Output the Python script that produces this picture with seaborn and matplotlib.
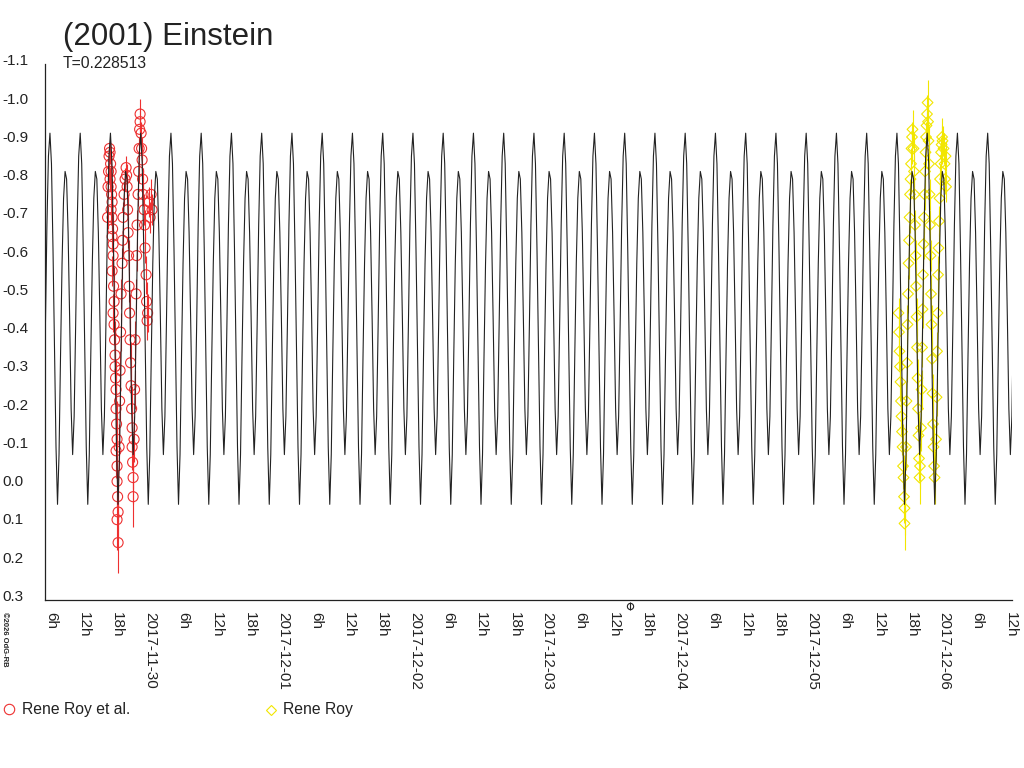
import numpy as np
import pandas as pd
import matplotlib
matplotlib.use("Agg")
import matplotlib.pyplot as plt
import matplotlib.dates as mdates
import matplotlib.transforms as mtrans
from matplotlib.lines import Line2D
import seaborn as sns

# ---- data ----
title = "(2001) Einstein"
period_days = 0.228513
epoch = "2017-11-29 17:29"      # a main maximum of the model curve
day0 = "2017-11-29"             # observation times are hours after this
x_start = "2017-11-29 05:37"
x_end = "2017-12-06 12:53"
mark_time = "2017-12-03 15:45"  # small symbol under the time axis

# one rotation of the model curve (phase from the main maximum)
model_phase = [0.00, 0.05, 0.10, 0.15, 0.20, 0.25, 0.30, 0.35, 0.40, 0.45,
               0.50, 0.55, 0.60, 0.65, 0.70, 0.75, 0.80, 0.85, 0.90, 0.95]
model_mag = [-0.92, -0.84, -0.62, -0.36, -0.10, 0.05, -0.08, -0.34, -0.58, -0.75,
             -0.82, -0.80, -0.66, -0.44, -0.20, -0.08, -0.18, -0.42, -0.68, -0.86]

# Rene Roy et al.
roy_al_hours = [16.96, 17.05, 17.14, 17.23, 17.32, 17.41, 17.51, 17.60, 17.41, 17.60,
                17.69, 17.78, 17.60, 17.78, 17.87, 17.78, 17.96, 17.96, 17.78, 18.05,
                18.14, 17.96, 18.14, 18.23, 18.32, 18.32, 18.41, 18.50, 18.50, 18.59,
                18.68, 18.50, 18.68, 18.68, 18.78, 18.87, 18.68, 18.87, 19.05, 19.14,
                19.23, 19.32, 19.41, 19.59, 19.68, 19.77, 19.95, 20.14, 20.32, 20.41,
                20.50, 20.59, 20.68, 20.77, 20.86, 20.95, 21.04, 21.13, 21.22, 21.32,
                21.41, 21.41, 21.50, 21.59, 21.59, 21.77, 21.86, 21.95, 22.13, 22.22,
                22.31, 22.49, 22.59, 22.68, 22.77, 22.86, 22.86, 23.04, 23.13, 23.22,
                23.31, 23.40, 23.58, 23.67, 23.76, 23.95, 24.04, 24.13, 24.22, 24.49,
                24.67, 24.85, 25.03]
roy_al_mag = [-0.70, -0.78, -0.82, -0.86, -0.88, -0.87, -0.84, -0.82, -0.80, -0.78,
              -0.76, -0.74, -0.72, -0.70, -0.67, -0.65, -0.63, -0.60, -0.56, -0.52,
              -0.48, -0.45, -0.42, -0.38, -0.34, -0.31, -0.28, -0.25, -0.20, -0.16,
              -0.12, -0.09, -0.05, -0.01, 0.03, 0.07, 0.09, 0.15, -0.10, -0.22,
              -0.30, -0.40, -0.50, -0.58, -0.64, -0.70, -0.76, -0.80, -0.83, -0.81,
              -0.78, -0.72, -0.66, -0.60, -0.52, -0.45, -0.38, -0.32, -0.26, -0.20,
              -0.15, -0.10, -0.06, -0.02, 0.03, -0.12, -0.25, -0.38, -0.50, -0.60,
              -0.68, -0.76, -0.82, -0.88, -0.93, -0.97, -0.95, -0.92, -0.88, -0.85,
              -0.80, -0.76, -0.72, -0.68, -0.62, -0.55, -0.48, -0.43, -0.45, -0.74,
              -0.70, -0.76, -0.72]
roy_al_err = [0.03, 0.03, 0.03, 0.02, 0.02, 0.03, 0.03, 0.03, 0.03, 0.03,
              0.04, 0.03, 0.04, 0.03, 0.04, 0.04, 0.04, 0.05, 0.04, 0.05,
              0.05, 0.05, 0.05, 0.05, 0.05, 0.06, 0.05, 0.06, 0.06, 0.06,
              0.06, 0.07, 0.06, 0.07, 0.07, 0.07, 0.08, 0.08, 0.06, 0.05,
              0.05, 0.05, 0.04, 0.04, 0.04, 0.04, 0.03, 0.03, 0.03, 0.03,
              0.03, 0.04, 0.04, 0.04, 0.04, 0.05, 0.05, 0.05, 0.05, 0.06,
              0.06, 0.06, 0.07, 0.07, 0.08, 0.06, 0.05, 0.05, 0.04, 0.04,
              0.04, 0.03, 0.03, 0.03, 0.03, 0.04, 0.03, 0.03, 0.03, 0.03,
              0.03, 0.03, 0.04, 0.04, 0.04, 0.05, 0.05, 0.05, 0.05, 0.04,
              0.04, 0.04, 0.04]

# Rene Roy
roy_hours = [160.36, 160.45, 160.54, 160.63, 160.72, 160.81, 160.90, 161.00, 161.09, 161.18,
             161.27, 161.36, 161.45, 161.45, 161.72, 161.81, 161.90, 161.99, 162.08, 162.18,
             162.27, 162.36, 162.45, 162.54, 162.63, 162.72, 162.81, 162.90, 163.08, 163.17,
             163.26, 163.36, 163.45, 163.54, 163.63, 163.72, 163.81, 163.90, 163.99, 164.08,
             164.17, 164.26, 164.44, 164.54, 164.63, 164.72, 164.81, 164.90, 164.99, 165.08,
             165.17, 165.26, 165.35, 165.44, 165.53, 165.63, 165.72, 165.81, 165.90, 165.99,
             166.08, 166.17, 166.26, 166.35, 166.44, 166.53, 166.62, 166.71, 166.81, 166.90,
             167.17, 167.26, 167.35, 167.44, 167.53, 167.62, 167.71, 167.80, 167.89, 167.99,
             168.08, 168.17, 168.26, 168.35, 168.53, 168.71, 168.80, 168.89, 168.98]
roy_mag = [-0.45, -0.40, -0.35, -0.31, -0.27, -0.22, -0.18, -0.14, -0.10, -0.05,
           -0.02, 0.03, 0.06, 0.10, -0.10, -0.22, -0.32, -0.42, -0.50, -0.58,
           -0.64, -0.70, -0.76, -0.80, -0.84, -0.88, -0.91, -0.93, -0.88, -0.82,
           -0.76, -0.68, -0.60, -0.52, -0.44, -0.36, -0.28, -0.20, -0.13, -0.07,
           -0.02, -0.05, -0.15, -0.25, -0.36, -0.46, -0.55, -0.63, -0.70, -0.76,
           -0.82, -0.87, -0.91, -0.94, -0.97, -1.00, -0.95, -0.90, -0.84, -0.76,
           -0.68, -0.60, -0.50, -0.42, -0.33, -0.24, -0.16, -0.10, -0.05, -0.02,
           -0.12, -0.23, -0.35, -0.45, -0.55, -0.62, -0.69, -0.75, -0.80, -0.84,
           -0.87, -0.89, -0.91, -0.90, -0.88, -0.84, -0.80, -0.86, -0.78]
roy_err = [0.04, 0.04, 0.05, 0.05, 0.05, 0.05, 0.05, 0.06, 0.06, 0.06,
           0.06, 0.07, 0.07, 0.07, 0.06, 0.05, 0.05, 0.05, 0.05, 0.04,
           0.04, 0.04, 0.04, 0.04, 0.04, 0.04, 0.04, 0.05, 0.04, 0.04,
           0.04, 0.04, 0.04, 0.05, 0.05, 0.05, 0.05, 0.06, 0.06, 0.06,
           0.07, 0.06, 0.06, 0.05, 0.05, 0.05, 0.04, 0.04, 0.04, 0.04,
           0.04, 0.04, 0.04, 0.05, 0.05, 0.06, 0.05, 0.04, 0.04, 0.04,
           0.04, 0.04, 0.05, 0.05, 0.05, 0.05, 0.06, 0.06, 0.06, 0.07,
           0.06, 0.05, 0.05, 0.05, 0.05, 0.04, 0.04, 0.04, 0.04, 0.04,
           0.04, 0.05, 0.05, 0.04, 0.04, 0.04, 0.04, 0.04, 0.04]

yticks = [-1.1, -1.0, -0.9, -0.8, -0.7, -0.6, -0.5, -0.4, -0.3, -0.2, -0.1, 0.0, 0.1, 0.2, 0.3]

red = "#ee3030"
yellow = "#f2e600"
ink = "#222222"

# ---- build frames ----
t0 = pd.Timestamp(day0)
df_al = pd.DataFrame({"time": t0 + pd.to_timedelta(roy_al_hours, unit="h"),
                      "mag": roy_al_mag, "err": roy_al_err})
df_roy = pd.DataFrame({"time": t0 + pd.to_timedelta(roy_hours, unit="h"),
                       "mag": roy_mag, "err": roy_err})

# repeat the one-rotation model over the whole time span
cycles = np.arange(-3, 31)
phase_all = (cycles[:, None] + np.array(model_phase)[None, :]).ravel()
model_df = pd.DataFrame({
    "time": pd.Timestamp(epoch) + pd.to_timedelta(phase_all * period_days, unit="D"),
    "mag": np.tile(model_mag, len(cycles)),
})

# ---- plot ----
sns.set_style("white")
plt.rcParams["font.family"] = ["Liberation Sans", "DejaVu Sans"]
plt.rcParams["text.color"] = ink

fig = plt.figure(figsize=(10.24, 7.68), dpi=100)
ax = fig.add_axes([45 / 1024, 168 / 768, (1011.7 - 45) / 1024, (600 - 64.3) / 768])

ax.errorbar(df_al["time"], df_al["mag"], yerr=df_al["err"], fmt="none",
            ecolor=red, elinewidth=0.8, zorder=2)
ax.errorbar(df_roy["time"], df_roy["mag"], yerr=df_roy["err"], fmt="none",
            ecolor=yellow, elinewidth=0.8, zorder=2)
sns.scatterplot(data=df_al, x="time", y="mag", marker="o", s=52, color=red,
                facecolor="none", edgecolor=red, linewidth=0.8, ax=ax, zorder=3)
sns.scatterplot(data=df_roy, x="time", y="mag", marker="D", s=30, color=yellow,
                facecolor="none", edgecolor=yellow, linewidth=0.8, ax=ax, zorder=3)
sns.lineplot(data=model_df, x="time", y="mag", estimator=None, sort=False,
             color=ink, linewidth=0.8, ax=ax, zorder=4)

ax.set_xlim(pd.Timestamp(x_start), pd.Timestamp(x_end))
ax.set_ylim(0.3, -1.1)
ax.set_xlabel("")
ax.set_ylabel("")

# time axis: labelled every 6 h, small ticks every 2 h
majors = pd.date_range("2017-11-29 06:00", "2017-12-06 12:00", freq="6h")
minors = pd.date_range("2017-11-29 06:00", "2017-12-06 12:00", freq="2h")
minors = [m for m in minors if m.hour % 6 != 0]
major_labels = [m.strftime("%Y-%m-%d") if m.hour == 0 else f"{m.hour}h" for m in majors]
ax.set_xticks(mdates.date2num(majors))
ax.set_xticklabels(major_labels)
ax.set_xticks(mdates.date2num(minors), minor=True)
ax.tick_params(axis="x", which="major", length=8.6, width=0.8, color=ink,
               pad=0, labelsize=11, labelrotation=270, labelcolor=ink)
ax.tick_params(axis="x", which="minor", length=5, width=0.8, color=ink)
shift = mtrans.ScaledTranslation(4 / 100, 0, fig.dpi_scale_trans)
for lab in ax.get_xticklabels():
    lab.set_transform(lab.get_transform() + shift)

ax.set_yticks(yticks)
ax.set_yticklabels([f"{v:.1f}" for v in yticks])
ax.tick_params(axis="y", length=7, width=0.8, color=ink, pad=24,
               labelsize=11, labelcolor=ink)
down = mtrans.ScaledTranslation(0, -1 / 100, fig.dpi_scale_trans)
for lab in ax.get_yticklabels():
    lab.set_horizontalalignment("left")
    lab.set_verticalalignment("baseline")
    lab.set_transform(lab.get_transform() + down)

sns.despine(ax=ax)
for side in ["left", "bottom"]:
    ax.spines[side].set_color(ink)
    ax.spines[side].set_linewidth(0.9)

# small symbol under the time axis
blend = mtrans.blended_transform_factory(ax.transData, ax.transAxes)
mx = mdates.date2num(pd.Timestamp(mark_time))
ax.plot([mx], [-0.011], marker="o", ms=4.5, mfc="none", mec=ink, mew=0.8,
        transform=blend, clip_on=False)
ax.plot([mx], [-0.011], marker="|", ms=6, mec=ink, mew=0.8,
        transform=blend, clip_on=False)

# texts
fig.text(63 / 1024, 1 - 45 / 768, title, fontsize=22.5, va="baseline")
fig.text(63 / 1024, 1 - 67.7 / 768, f"T={period_days}", fontsize=11.3, va="baseline")
fig.text(4 / 1024, 1 - 612 / 768, "\u00a92026 OdG-RB", rotation=270, fontsize=5.5,
         va="top", ha="center", weight="bold")

# legend under the plot
fig.add_artist(Line2D([9.3 / 1024], [1 - 709.3 / 768], marker="o", ms=7.5,
                      mfc="none", mec=red, mew=0.8, transform=fig.transFigure))
fig.text(21.7 / 1024, 1 - 714 / 768, "Rene Roy et al.", fontsize=11.3, va="baseline")
fig.add_artist(Line2D([270.5 / 1024], [1 - 709.7 / 768], marker="D", ms=5.5,
                      mfc="none", mec=yellow, mew=0.8, transform=fig.transFigure))
fig.text(282.7 / 1024, 1 - 714 / 768, "Rene Roy", fontsize=11.3, va="baseline")

fig.savefig("out.png", dpi=100)
